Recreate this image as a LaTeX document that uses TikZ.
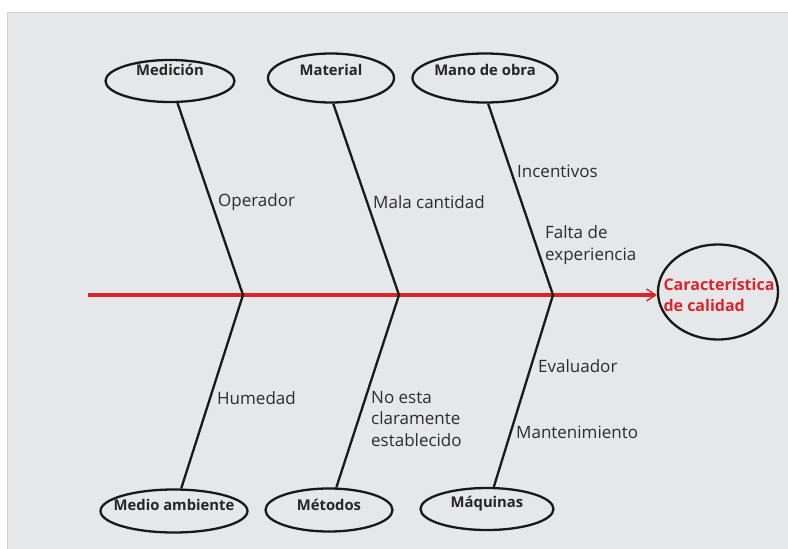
\documentclass[tikz,border=0pt]{standalone}
\usepackage{fontspec}
\setmainfont{Open Sans}
\usetikzlibrary{shapes.geometric}
\usetikzlibrary{arrows.meta}
\definecolor{fondo}{RGB}{230,231,233}
\definecolor{borde}{RGB}{208,209,211}
\definecolor{rojo}{RGB}{218,37,44}
\definecolor{texto}{RGB}{45,45,45}

\begin{document}
\begin{tikzpicture}[x=1pt,y=-1pt,
        causa/.style={ellipse,draw=black!90,line width=2.3pt,fill=fondo,inner sep=0pt},
        rotulo/.style={inner sep=0pt,text=black!85,font=\fontsize{14.8}{17}\selectfont\bfseries},
        hueso/.style={draw=black!90,line width=2.3pt},
        espina/.style={draw=rojo,line width=3.8pt,-{Straight Barb[length=9pt,width=12pt,line width=1.4pt]}},
        nota/.style={anchor=west,align=left,inner sep=0pt,text=texto,font=\fontsize{17}{21.5}\selectfont}]
            \useasboundingbox (0,0) rectangle (788,549);
            \fill[fondo] (7,12) rectangle (788,549);
            \draw[borde,line width=0.8pt] (7,549) -- (7,12) -- (788,12);
            % causas
            \node[causa,minimum width=129,minimum height=42,label={[rotulo,yshift=11pt]center:Medición}] (med) at (170,81) {};
            \node[causa,minimum width=126,minimum height=49,label={[rotulo,yshift=8pt]center:Material}] (mat) at (331,78) {};
            \node[causa,minimum width=145,minimum height=49,label={[rotulo,yshift=8pt]center:Mano de obra}] (mano) at (485,78) {};
            \node[causa,minimum width=147,minimum height=43,label={[rotulo,yshift=6pt]center:Medio ambiente}] (amb) at (174,511) {};
            \node[causa,minimum width=127,minimum height=43,label={[rotulo,yshift=5pt]center:Métodos}] (met) at (329,510) {};
            \node[causa,minimum width=133,minimum height=42,label={[rotulo,yshift=5pt]center:Máquinas}] (maq) at (487,509) {};
            \node[causa,minimum width=120,minimum height=95,label={[rotulo,text=rojo,align=left,font=\fontsize{16}{21}\selectfont\bfseries,xshift=1pt,yshift=-3pt]center:Característica\\de calidad}] (cal) at (718,292) {};
            % espina
            \coordinate (cola) at (88,295);
            \coordinate (v1) at (243,295);
            \coordinate (v2) at (399,295);
            \coordinate (v3) at (553,295);
            \draw[espina] (cola) -- (cola -| cal.west);
            \draw[hueso] (med) -- (v1) -- (amb);
            \draw[hueso] (mat.-85) -- (v2) -- (met);
            \draw[hueso] (mano.-83) -- (v3) -- (maq);
            % subcausas
            \node[nota] (operador) at (218,202) {Operador};
            \node[nota] (cantidad) at (373,202) {Mala cantidad};
            \node[nota] (incentivos) at (517,171) {Incentivos};
            \node[nota] (experiencia) at (545,245) {Falta de\\experiencia};
            \node[nota] (humedad) at (217,398) {Humedad};
            \node[nota] (establecido) at (371,419) {No esta\\claramente\\establecido};
            \node[nota] (evaluador) at (538,366) {Evaluador};
            \node[nota] (mantenimiento) at (516,432) {Mantenimiento};
        \end{tikzpicture}
\end{document}
